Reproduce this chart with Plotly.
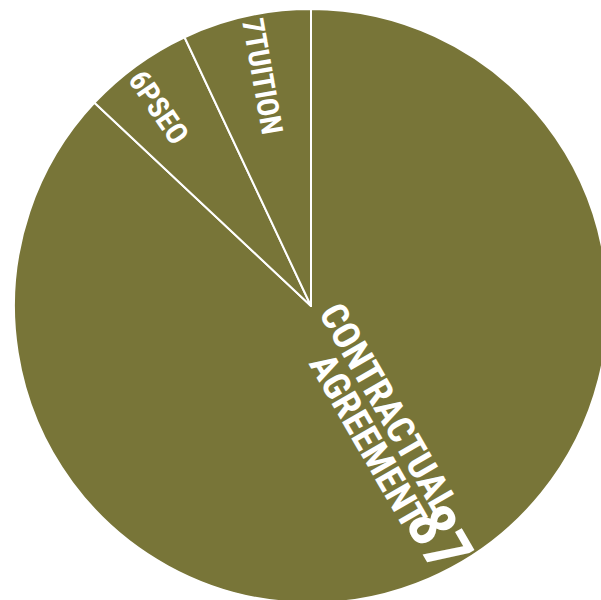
import plotly.graph_objects as go

# ---- data ----
labels = ["CONTRACTUAL AGREEMENT", "PSEO", "TUITION"]
label_lines = [["CONTRACTUAL", "AGREEMENT"], ["PSEO"], ["TUITION"]]
values = [87, 6, 7]

# ---- style / layout ----
W, H = 615, 615
CX, CY, R = 311, 306, 297          # pie centre and radius in pixels
OLIVE = "#787538"
FONT = "Roboto Condensed, Open Sans Condensed, sans-serif"
NUM_FONT = "Open Sans Condensed, Roboto Condensed, sans-serif"

fig = go.Figure(go.Pie(
    labels=labels,
    values=values,
    sort=False,
    direction="clockwise",
    rotation=0,
    marker=dict(colors=[OLIVE] * len(values), line=dict(color="white", width=2)),
    textinfo="none",
    hoverinfo="label+value",
    showlegend=False,
    domain=dict(x=[(CX - R) / W, (CX + R) / W],
                y=[1 - (CY + R) / H, 1 - (CY - R) / H]),
))


def ann(text, px, py, angle, size, family=FONT, weight="bold"):
    fig.add_annotation(
        text=text,
        x=px / W, y=1 - py / H, xref="paper", yref="paper",
        xanchor="center", yanchor="middle", showarrow=False,
        textangle=angle,
        font=dict(family=family, size=size, color="white", weight=weight),
    )


ann(label_lines[0][0], 388, 408, 60, 38)
ann(label_lines[0][1], 368, 441, 60, 38)
ann(str(values[0]), 442, 536, 60, 66, family=NUM_FONT, weight=500)
ann(f"{values[1]}{label_lines[1][0]}", 158, 107, 56, 30)
ann(f"{values[2]}{label_lines[2][0]}", 262, 76, 80, 30)

fig.update_layout(
    width=W, height=H,
    margin=dict(l=0, r=0, t=0, b=0),
    paper_bgcolor="white",
    plot_bgcolor="white",
)

fig.write_html(
    "out.html",
    config={"displayModeBar": False},
    post_script="document.body.style.margin='0';document.body.style.overflow='hidden';",
)
